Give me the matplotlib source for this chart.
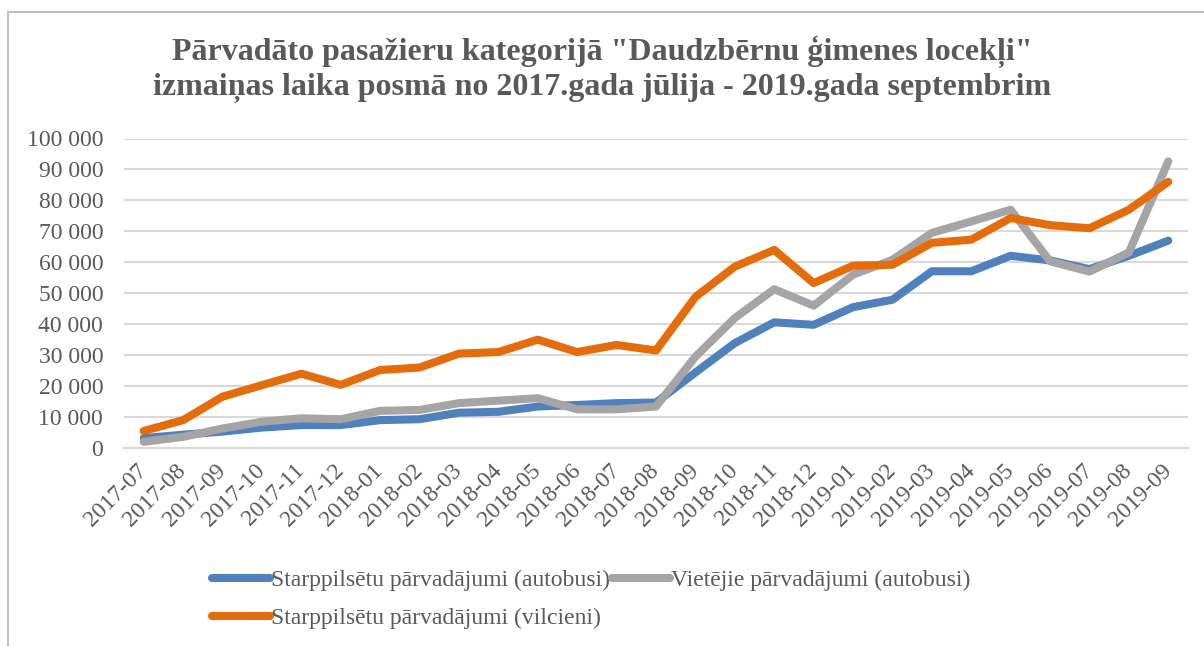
import matplotlib
matplotlib.use('Agg')
import matplotlib.pyplot as plt
from matplotlib.lines import Line2D
from matplotlib.ticker import FuncFormatter

months = ['2017-07', '2017-08', '2017-09', '2017-10', '2017-11', '2017-12',
          '2018-01', '2018-02', '2018-03', '2018-04', '2018-05', '2018-06',
          '2018-07', '2018-08', '2018-09', '2018-10', '2018-11', '2018-12',
          '2019-01', '2019-02', '2019-03', '2019-04', '2019-05', '2019-06',
          '2019-07', '2019-08', '2019-09']

# Starppilsetu parvadajumi (autobusi)
bus_intercity = [3200, 4300, 5300, 6600, 7400, 7400, 9000, 9300, 11400, 11700,
                 13400, 13900, 14500, 14700, 24400, 33900, 40600, 39800,
                 45500, 47900, 57100, 57100, 62100, 60600, 57800, 62100, 67000]
# Vietejie parvadajumi (autobusi)
bus_local = [2000, 3600, 6300, 8500, 9600, 9300, 12000, 12300, 14500, 15300,
             16100, 12500, 12500, 13400, 29500, 42000, 51300, 46000,
             56000, 60800, 69500, 73200, 77000, 60300, 57000, 63200, 92600]
# Starppilsetu parvadajumi (vilcieni)
train = [5500, 9000, 16600, 20300, 24000, 20400, 25200, 26000, 30500, 31000,
         35000, 31000, 33300, 31500, 48800, 58600, 64000, 53300,
         58900, 59200, 66300, 67300, 74300, 72000, 71000, 77000, 86000]

labels = ['Starppilsētu pārvadājumi (autobusi)',
          'Vietējie pārvadājumi (autobusi)',
          'Starppilsētu pārvadājumi (vilcieni)']
colors = ['#4F81BD', '#A5A5A5', '#E46C0A']

plt.rcParams['font.family'] = ['Liberation Serif', 'DejaVu Serif']
txt = '#595959'

fig = plt.figure(figsize=(12.04, 6.46), dpi=100)
ax = fig.add_axes([124 / 1204, 1 - 448 / 646, 1064 / 1204, 309.5 / 646])

x = list(range(len(months)))
lines = []
for ys, c, lab in zip([bus_intercity, bus_local, train], colors, labels):
    ln, = ax.plot(x, ys, color=c, lw=5.8, label=lab,
                  solid_capstyle='round', solid_joinstyle='round')
    lines.append(ln)

ax.set_xlim(-0.5, len(months) - 0.5)
ax.set_ylim(0, 100000)
ax.set_yticks(range(0, 100001, 10000))
ax.yaxis.set_major_formatter(FuncFormatter(lambda v, p: f'{int(v):,}'.replace(',', ' ')))
ax.grid(axis='y', color='#D9D9D9', lw=1.5)
ax.set_axisbelow(True)
for s in ['top', 'right', 'left']:
    ax.spines[s].set_visible(False)
ax.spines['bottom'].set_color('#D9D9D9')
ax.spines['bottom'].set_linewidth(1.5)
ax.set_xticks(x)
ax.set_xticklabels(months, rotation=45, ha='right', va='center',
                   rotation_mode='anchor')
ax.tick_params(axis='y', length=0, pad=15, labelsize=17, labelcolor=txt)
ax.tick_params(axis='x', length=0, pad=14, labelsize=17, labelcolor=txt)

fig.text(0.5, 1 - 69 / 646,
         'Pārvadāto pasažieru kategorijā "Daudzbērnu ģimenes locekļi"\n'
         'izmaiņas laika posmā no 2017.gada jūlija - 2019.gada septembrim',
         ha='center', va='center', fontsize=23, fontweight='bold', color=txt,
         linespacing=1.25)

leg = fig.legend([lines[0], lines[2], lines[1]],
                 [labels[0], labels[2], labels[1]],
                 ncol=2, loc='upper left', bbox_to_anchor=(203 / 1204, 1 - 560 / 646),
                 frameon=False, fontsize=17, handlelength=2.45, handletextpad=0.05,
                 columnspacing=0.05, labelspacing=0.7, borderaxespad=0)
for t in leg.get_texts():
    t.set_color(txt)

# outer chart border (top and left edges visible)
fig.add_artist(Line2D([8 / 1204, 8 / 1204, 1], [0, 1 - 12 / 646, 1 - 12 / 646],
                      transform=fig.transFigure, color='#BFBFBF', lw=1.5))

fig.savefig('out.png', dpi=100)
